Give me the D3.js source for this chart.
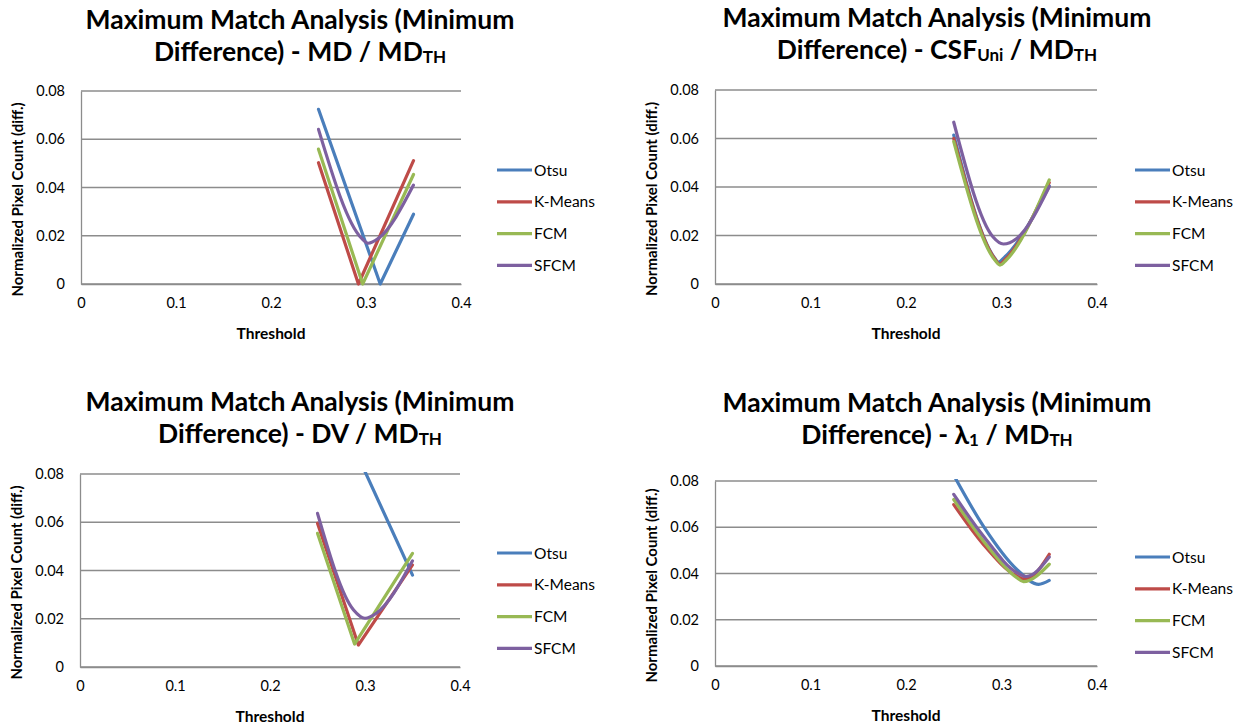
<!DOCTYPE html>
<html>
<head>
<meta charset="utf-8">
<script src="https://cdn.jsdelivr.net/npm/d3@7"></script>
<style>
  body { margin: 0; background: #fff; }
  text { font-family: Lato, "Open Sans", sans-serif; }
</style>
</head>
<body>
<script>
// series names and colours (Excel 2007 palette)
var methods = ["Otsu", "K-Means", "FCM", "SFCM"];
var colors = ["#4a7ebb", "#be4b48", "#98b954", "#7d60a0"];

var xTicks = [0, 0.1, 0.2, 0.3, 0.4];
var yTicks = [0, 0.02, 0.04, 0.06, 0.08];

// [threshold, normalized pixel count] per method, order: Otsu, K-Means, FCM, SFCM
var mdData = [
  [[0.25, 0.0724], [0.315, 0], [0.35, 0.0289]],
  [[0.25, 0.0503], [0.292, 0], [0.35, 0.0511]],
  [[0.25, 0.0559], [0.2965, 0], [0.35, 0.0454]],
  [[0.25, 0.0641], [0.2955, 0.0189], [0.3024, 0.0169], [0.313, 0.0189], [0.35, 0.041]]
];
var csfData = [
  [[0.25, 0.0614], [0.292, 0.0112], [0.2967, 0.009], [0.303, 0.011], [0.35, 0.0404]],
  [[0.25, 0.0600], [0.293, 0.0104], [0.298, 0.0082], [0.304, 0.0102], [0.35, 0.0418]],
  [[0.25, 0.0587], [0.293, 0.0099], [0.2984, 0.0078], [0.305, 0.0099], [0.35, 0.0429]],
  [[0.25, 0.0667], [0.291, 0.0195], [0.302, 0.0165], [0.316, 0.0188], [0.35, 0.0401]]
];
var dvData = [
  [[0.25, 0.124], [0.3, 0.081], [0.35, 0.0381]],
  [[0.25, 0.0596], [0.293, 0.0091], [0.35, 0.0423]],
  [[0.25, 0.0554], [0.289, 0.0095], [0.35, 0.0471]],
  [[0.25, 0.0637], [0.288, 0.0236], [0.3, 0.0202], [0.312, 0.0223], [0.35, 0.044]]
];
var lambdaData = [
  [[0.25, 0.0825], [0.281, 0.0605], [0.316, 0.0418], [0.339, 0.0353], [0.35, 0.037]],
  [[0.25, 0.0698], [0.281, 0.0526], [0.316, 0.0389], [0.325, 0.0375], [0.35, 0.0483]],
  [[0.25, 0.072], [0.281, 0.0541], [0.316, 0.0382], [0.323, 0.0365], [0.35, 0.044]],
  [[0.25, 0.0742], [0.281, 0.0562], [0.316, 0.0404], [0.326, 0.0387], [0.35, 0.0471]]
];

// layout of the four panels
var panels = [
  { data: mdData, sub: ["MD", null], l: 81, r: 461, t: 91, b: 284, tx: 300, ty: 29, lx: 497, ly: 170 },
  { data: csfData, sub: ["CSF", "Uni"], l: 715, r: 1097, t: 90, b: 284, tx: 937, ty: 27, lx: 1135, ly: 170 },
  { data: dvData, sub: ["DV", null], l: 80, r: 460, t: 474, b: 667, tx: 300, ty: 411, lx: 497, ly: 553 },
  { data: lambdaData, sub: ["\u03bb", "1"], l: 715, r: 1097, t: 481, b: 666, tx: 937, ty: 412, lx: 1135, ly: 557 }
];

var svg = d3.select("body").append("svg")
  .attr("width", 1246)
  .attr("height", 727);

panels.forEach(function (p, i) {
  var g = svg.append("g");

  var xScale = d3.scaleLinear().domain([0, 0.4]).range([p.l, p.r]);
  var yScale = d3.scaleLinear().domain([0, 0.08]).range([p.b, p.t]);

  // gridlines
  g.selectAll(".grid")
    .data(yTicks)
    .enter()
    .append("line")
    .attr("x1", p.l).attr("x2", p.r)
    .attr("y1", function (d) { return yScale(d); })
    .attr("y2", function (d) { return yScale(d); })
    .attr("stroke", "#8c8c8c")
    .attr("stroke-width", 1.3);

  var yAxis = d3.axisLeft(yScale).tickValues(yTicks).tickSize(0).tickPadding(16)
    .tickFormat(function (d) { return d === 0 ? "0" : d3.format(".2f")(d); });
  var xAxis = d3.axisBottom(xScale).tickValues(xTicks).tickSize(0).tickPadding(14)
    .tickFormat(function (d) { return d === 0 ? "0" : d3.format(".1f")(d); });

  var ya = g.append("g").attr("transform", "translate(" + p.l + ",0)").call(yAxis);
  var xa = g.append("g").attr("transform", "translate(0," + p.b + ")").call(xAxis);
  [ya, xa].forEach(function (a) {
    a.select(".domain").attr("stroke", "#8c8c8c").attr("stroke-width", 1.3);
    a.selectAll("text").attr("font-size", 14.5).attr("fill", "#000")
      .style("font-family", "Lato, sans-serif");
  });

  // clip for lines going over the top
  var clipId = "clip" + i;
  g.append("clipPath").attr("id", clipId)
    .append("rect")
    .attr("x", p.l).attr("y", p.t - 2)
    .attr("width", p.r - p.l).attr("height", p.b - p.t + 4);

  // sharp V's with 3 points stay straight, the rest are smoothed
  var line = function (d) {
    return d3.line()
      .x(function (q) { return xScale(q[0]); })
      .y(function (q) { return yScale(q[1]); })
      .curve(d.length > 3 ? d3.curveMonotoneX : d3.curveLinear)(d);
  };

  g.append("g").attr("clip-path", "url(#" + clipId + ")")
    .selectAll("path")
    .data(p.data)
    .enter()
    .append("path")
    .attr("d", line)
    .attr("fill", "none")
    .attr("stroke", function (d, k) { return colors[k]; })
    .attr("stroke-width", 3.2)
    .attr("stroke-linejoin", "round")
    .attr("stroke-linecap", "round");

  // title
  var title = g.append("text")
    .attr("text-anchor", "middle")
    .attr("font-size", 26.5)
    .attr("font-weight", "bold");
  title.append("tspan").attr("x", p.tx).attr("y", p.ty)
    .text("Maximum Match Analysis (Minimum");
  var l2 = title.append("tspan").attr("x", p.tx).attr("y", p.ty + 32)
    .text("Difference) - " + p.sub[0]);
  if (p.sub[1]) {
    l2.append("tspan").attr("font-size", 17).attr("dy", 2).text(p.sub[1]);
    l2.append("tspan").attr("dy", -2).text(" / MD");
  } else {
    l2.append("tspan").text(" / MD");
  }
  l2.append("tspan").attr("font-size", 17).attr("dy", 2).text("TH");

  // axis titles
  g.append("text")
    .attr("transform", "translate(" + (p.l - 58) + "," + ((p.t + p.b) / 2 + 12) + ") rotate(-90)")
    .attr("text-anchor", "middle")
    .attr("font-size", 15)
    .attr("font-weight", "bold")
    .text("Normalized Pixel Count (diff.)");

  g.append("text")
    .attr("x", xScale(0.2))
    .attr("y", p.b + 55)
    .attr("text-anchor", "middle")
    .attr("font-size", 15.5)
    .attr("font-weight", "bold")
    .text("Threshold");

  // legend
  var leg = g.selectAll(".leg")
    .data(methods)
    .enter()
    .append("g")
    .attr("transform", function (d, k) { return "translate(" + p.lx + "," + (p.ly + k * 31.8) + ")"; });
  leg.append("line")
    .attr("x1", 0).attr("x2", 35)
    .attr("stroke", function (d, k) { return colors[k]; })
    .attr("stroke-width", 3.2);
  leg.append("text")
    .attr("x", 37).attr("y", 5.5)
    .attr("font-size", 15.5)
    .text(function (d) { return d; });
});
</script>
</body>
</html>
